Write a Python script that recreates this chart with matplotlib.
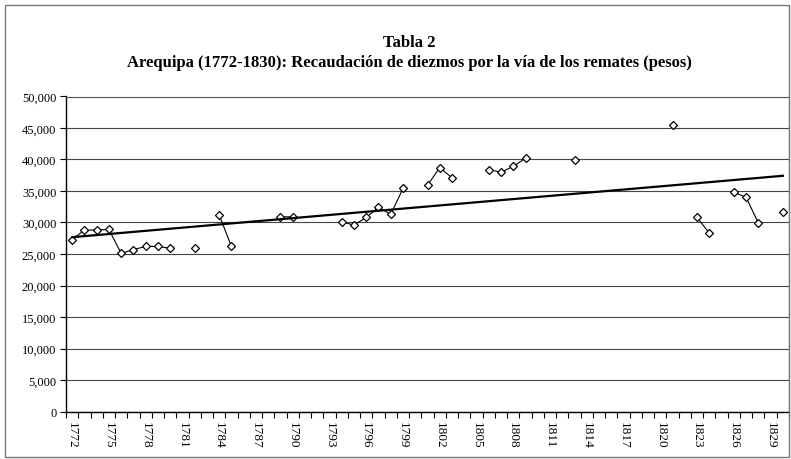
import numpy as np
import pandas as pd
import matplotlib
matplotlib.use('Agg')
import matplotlib.pyplot as plt
from matplotlib.patches import Rectangle
from matplotlib.ticker import FuncFormatter

plt.rcParams['font.family'] = ['Liberation Serif', 'DejaVu Serif']

# anos con remate registrado y monto (pesos)
anos = [1772, 1773, 1774, 1775, 1776, 1777, 1778, 1779, 1780, 1782, 1784, 1785,
        1789, 1790, 1794, 1795, 1796, 1797, 1798, 1799, 1801, 1802, 1803, 1806,
        1807, 1808, 1809, 1813, 1821, 1823, 1824, 1826, 1827, 1828, 1830]
valores = [27300, 28800, 28800, 28900, 25100, 25700, 26200, 26200, 25900, 26000,
           31200, 26200, 30900, 30900, 30100, 29600, 30800, 32400, 31300, 35400,
           35900, 38700, 37100, 38400, 38000, 38900, 40200, 39900, 45500, 30800,
           28300, 34800, 34000, 29900, 31700]
etiquetas = list(range(1772, 1830, 3))

serie = pd.Series(valores, index=anos).reindex(range(1772, 1831))
x = np.arange(len(serie))

# tendencia lineal (como Excel, sobre el indice de categoria)
ok = serie.notna().values
m, b = np.polyfit(x[ok], serie.values[ok], 1)

fig = plt.figure(figsize=(7.91, 4.6), dpi=100)
ax = fig.add_axes([66/791, 1-412.5/460, (789-66)/791, 315/460])

ax.plot(x, serie.values, color='black', lw=0.8, marker='D', ms=4.5,
        mfc='white', mec='black', mew=0.9, zorder=3)
ax.plot([x[0], x[-1]], [m*x[0]+b, m*x[-1]+b], color='black', lw=1.6, zorder=4)

ax.set_xlim(-0.5, len(serie)-0.5)
ax.set_ylim(0, 50000)
ax.set_yticks(range(0, 50001, 5000))
ax.yaxis.set_major_formatter(FuncFormatter(lambda v, p: f'{int(v):,}'))
ax.grid(axis='y', color='#444444', lw=0.8)
ax.set_axisbelow(True)

ax.set_xticks(np.arange(-0.5, len(serie), 1), minor=True)
ax.set_xticks([e-1772 for e in etiquetas])
ax.set_xticklabels([str(e) for e in etiquetas], rotation=-90, fontsize=9.5)
ax.tick_params(axis='x', which='major', length=0, pad=7)
ax.tick_params(axis='x', which='minor', length=4, width=0.8, direction='out')
ax.tick_params(axis='y', length=4, width=0.8, labelsize=9, pad=3)

for s in ['left', 'bottom']:
    ax.spines[s].set_color('black')
    ax.spines[s].set_linewidth(1.0)
for s in ['top', 'right']:
    ax.spines[s].set_color('#555555')
    ax.spines[s].set_linewidth(0.8)

fig.text(0.517, 0.906, 'Tabla 2', ha='center', va='center',
         fontsize=12, fontweight='bold')
fig.text(0.517, 0.862,
         'Arequipa (1772-1830): Recaudación de diezmos por la vía de los remates (pesos)',
         ha='center', va='center', fontsize=12, fontweight='bold')

fig.patches.append(Rectangle((5/791, 2/460), 784/791, 452/460, transform=fig.transFigure,
                             fill=False, edgecolor='#777777', lw=1.0))

fig.savefig('out.png', dpi=100)
